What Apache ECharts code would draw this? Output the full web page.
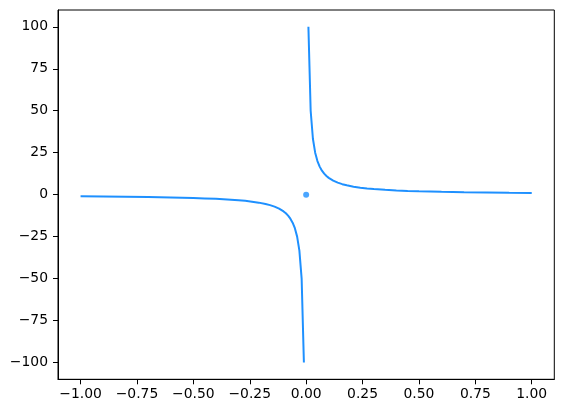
<!DOCTYPE html>
<html>
<head>
<meta charset="utf-8">
<script src="https://cdn.jsdelivr.net/npm/echarts@6/dist/echarts.min.js"></script>
<style>html,body{margin:0;padding:0;background:#fff;}#c{width:563px;height:413px;}</style>
</head>
<body>
<div id="c"></div>
<script>
// Curve values (left branch and right branch)
const xNeg = [-1, -0.9, -0.8, -0.7, -0.6, -0.5, -0.45, -0.4, -0.35, -0.3, -0.27, -0.24, -0.21, -0.18, -0.16, -0.14, -0.12, -0.1, -0.09, -0.08, -0.07, -0.06, -0.05, -0.04, -0.03, -0.02, -0.01];
const yNeg = [-1, -1.11, -1.25, -1.43, -1.67, -2, -2.22, -2.5, -2.86, -3.33, -3.7, -4.17, -4.76, -5.56, -6.25, -7.14, -8.33, -10, -11.1, -12.5, -14.3, -16.7, -20, -25, -33.3, -50, -100];
const xPos = [0.01, 0.02, 0.03, 0.04, 0.05, 0.06, 0.07, 0.08, 0.09, 0.1, 0.12, 0.14, 0.16, 0.18, 0.21, 0.24, 0.27, 0.3, 0.35, 0.4, 0.45, 0.5, 0.6, 0.7, 0.8, 0.9, 1];
const yPos = [100, 50, 33.3, 25, 20, 16.7, 14.3, 12.5, 11.1, 10, 8.33, 7.14, 6.25, 5.56, 4.76, 4.17, 3.7, 3.33, 2.86, 2.5, 2.22, 2, 1.67, 1.43, 1.25, 1.11, 1];
const dotX = [0];
const dotY = [0];
const xTicks = [-1, -0.75, -0.5, -0.25, 0, 0.25, 0.5, 0.75, 1];
const yTicks = [-100, -75, -50, -25, 0, 25, 50, 75, 100];

const color = '#1E90FF';
const pair = (xs, ys) => xs.map((x, i) => [x, ys[i]]);
const fmt = (v, d) => { const s = Math.abs(v).toFixed(d); return (v < 0 ? '\u2212' : '') + s; };

const chart = echarts.init(document.getElementById('c'), null, {renderer: 'canvas'});
const labelStyle = {color: '#000', fontFamily: 'DejaVu Sans', fontSize: 13.9};
chart.setOption({
  animation: false,
  backgroundColor: '#fff',
  grid: {left: 58, right: 8.7, top: 10, bottom: 33.7, show: true, borderColor: '#000', borderWidth: 1, backgroundColor: 'transparent'},
  xAxis: {
    type: 'value', min: -1.1, max: 1.1,
    splitLine: {show: false},
    axisLine: {show: true, onZero: false, lineStyle: {color: '#000', width: 1}},
    axisTick: {show: true, length: 5, inside: false, customValues: xTicks, lineStyle: {color: '#000', width: 1}},
    axisLabel: Object.assign({customValues: xTicks, margin: 8, formatter: v => fmt(v, 2)}, labelStyle)
  },
  yAxis: {
    type: 'value', min: -110, max: 110,
    splitLine: {show: false},
    axisLine: {show: true, onZero: false, lineStyle: {color: '#000', width: 1}},
    axisTick: {show: true, length: 5, inside: false, customValues: yTicks, lineStyle: {color: '#000', width: 1}},
    axisLabel: Object.assign({customValues: yTicks, margin: 10, formatter: v => fmt(v, 0)}, labelStyle)
  },
  series: [
    {type: 'line', data: pair(xNeg, yNeg), showSymbol: false, symbol: 'none', lineStyle: {color: color, width: 2}, smooth: false},
    {type: 'line', data: pair(xPos, yPos), showSymbol: false, symbol: 'none', lineStyle: {color: color, width: 2}, smooth: false},
    {type: 'scatter', data: pair(dotX, dotY), symbol: 'circle', symbolSize: 6, z: 5, itemStyle: {color: color}}
  ]
});
</script>
</body>
</html>
